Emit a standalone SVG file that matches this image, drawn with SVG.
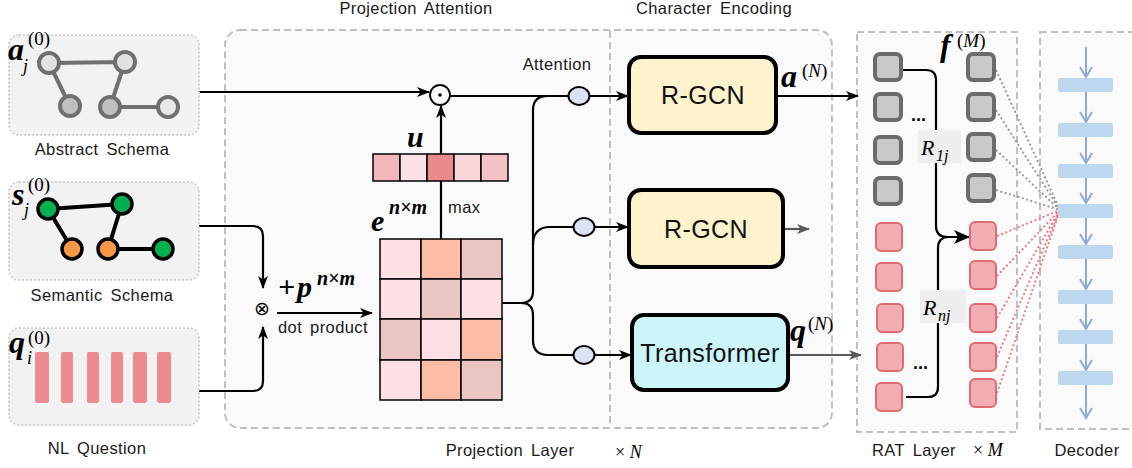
<svg xmlns="http://www.w3.org/2000/svg" width="1132" height="468" viewBox="0 0 1132 468">
<defs>
<style>
.lbl{font-family:"Liberation Sans",Arial,sans-serif;font-size:16.5px;fill:#1a1a1a;letter-spacing:0.4px;word-spacing:3px}
.math{font-family:"Liberation Serif","Times New Roman",serif;font-weight:bold;font-style:italic;fill:#000}
.mi{font-family:"Liberation Serif","Times New Roman",serif;font-style:italic;fill:#000}
.mr{font-family:"Liberation Serif","Times New Roman",serif;fill:#000}
.schema{fill:#f2f2f2;stroke:#d0d0d0;stroke-width:2;stroke-dasharray:2 2}
.dash{fill:#fafafa;stroke:#bfbfbf;stroke-width:2;stroke-dasharray:7 4}
.ae{stroke:#707070;stroke-width:4;fill:none}
.an{stroke:#707070;stroke-width:4}
.se{stroke:#000;stroke-width:4;fill:none}
.sn{stroke:#000;stroke-width:3.5}
.bar{fill:#ec8c90}
.cell{stroke:#000;stroke-width:1.5}
.conn{fill:none;stroke:#000;stroke-width:2.2}
.connG{fill:none;stroke:#595959;stroke-width:2.2}
.oval{fill:#dae3f3;stroke:#000;stroke-width:2}
.box{stroke:#000;stroke-width:4}
.boxt{font-family:"Liberation Sans",Arial,sans-serif;font-size:25px;fill:#111;text-anchor:middle;letter-spacing:0.4px}
.gsq{fill:#c8c8c8;stroke:#6b6b6b;stroke-width:4}
.psq{fill:#f2adb2;stroke:#df6b72;stroke-width:2}
.gdot{stroke:#9a9a9a;stroke-width:2;stroke-dasharray:2 2.5;fill:none}
.pdot{stroke:#ee7a84;stroke-width:2;stroke-dasharray:2 2.5;fill:none}
.dbar{fill:#bdd7ee}
.darr{stroke:#8eaadb;stroke-width:2;fill:none}
.rl{fill:#eeeeee}
</style>
<marker id="ah" markerUnits="userSpaceOnUse" markerWidth="13" markerHeight="10" refX="12" refY="5" orient="auto"><path d="M0,0 L13,5 L0,10 L3.5,5 z" fill="#000"/></marker>
<marker id="ahL" markerUnits="userSpaceOnUse" markerWidth="16" markerHeight="14" refX="15" refY="7" orient="auto"><path d="M0,0 L16,7 L0,14 L4,7 z" fill="#000"/></marker>
<marker id="ahG" markerUnits="userSpaceOnUse" markerWidth="13" markerHeight="10" refX="12" refY="5" orient="auto"><path d="M0,0 L13,5 L0,10 L3.5,5 z" fill="#595959"/></marker>
</defs>
<rect width="1132" height="468" fill="#ffffff"/>

<!-- containers -->
<g id="projection-layer">
<rect class="dash" x="225" y="30" width="607" height="398" rx="15"/>
<line x1="610" y1="31" x2="610" y2="427" stroke="#bfbfbf" stroke-width="2" stroke-dasharray="7 4"/>
<text class="lbl" x="416" y="14" text-anchor="middle">Projection Attention</text>
<text class="lbl" x="714" y="14" text-anchor="middle">Character Encoding</text>
<text class="lbl" x="510" y="456" text-anchor="middle">Projection Layer</text>
<text class="mr" x="615" y="458" font-size="18">× <tspan class="mi">N</tspan></text>
</g>
<g id="rat-layer-box">
<rect class="dash" x="857" y="32" width="160" height="400"/>
<text class="lbl" x="872" y="456">RAT Layer</text>
<text class="mr" x="973" y="456" font-size="18">× <tspan class="mi">M</tspan></text>
</g>
<g id="decoder-box">
<rect class="dash" x="1040" y="32" width="110" height="397"/>
<text class="lbl" x="1087" y="456" text-anchor="middle">Decoder</text>
</g>

<!-- connectors -->
<g id="connectors">
<path class="conn" d="M199,92 H429" marker-end="url(#ah)"/>
<path class="conn" d="M450,96 H628" marker-end="url(#ah)"/>
<path class="conn" d="M199,226 H253 Q263,226 263,236 V288" marker-end="url(#ah)"/>
<path class="conn" d="M199,391 H253 Q263,391 263,381 V327" marker-end="url(#ah)"/>
<path class="conn" d="M277,313 H372" marker-end="url(#ah)"/>
<path class="conn" d="M441,239 V106" marker-end="url(#ah)"/>
<path class="conn" d="M502,303 H521 Q533,303 533,291 V110 Q533,96 548,96"/>
<path class="conn" d="M533,245 Q533,227 550,227 H628" marker-end="url(#ah)"/>
<path class="conn" d="M521,303 Q533,303 533,315 V340 Q533,355 548,355 H631" marker-end="url(#ah)"/>
<path class="conn" d="M776,96 H858" marker-end="url(#ah)"/>
<path class="connG" d="M783,229 H809" marker-end="url(#ahG)"/>
<path class="connG" d="M788,355 H861" marker-end="url(#ahG)"/>
<path class="conn" stroke-width="2.6" d="M902,70 H926 Q936,70 936,80 V226 Q936,237 947,237 H969" marker-end="url(#ahL)"/>
<path class="conn" stroke-width="2.6" d="M906,397 H928 Q938,397 938,387 V248 Q938,237 949,237"/>
<g id="attn-dots">
<path class="gdot" d="M996,70 L1060,210 M996,110 L1060,210 M996,150 L1060,210 M996,190 L1060,210"/>
<path class="pdot" d="M997,236 L1060,210 M997,276 L1060,210 M997,318 L1060,210 M997,357 L1060,210 M997,393 L1060,210"/>
</g>
<path class="darr" d="M1086,47 V77 M1086,92 V122 M1086,137 V163 M1086,178 V203 M1086,218 V244 M1086,259 V289 M1086,304 V329 M1086,344 V370 M1086,385 V418"/>
<g id="decoder-arrowheads" fill="none" stroke="#8eaadb" stroke-width="2">
<path d="M1080,67 L1086,77 L1092,67 M1080,112 L1086,122 L1092,112 M1080,153 L1086,163 L1092,153 M1080,193 L1086,203 L1092,193 M1080,234 L1086,244 L1092,234 M1080,279 L1086,289 L1092,279 M1080,319 L1086,329 L1092,319 M1080,360 L1086,370 L1092,360 M1080,408 L1086,418 L1092,408"/>
</g>
</g>

<!-- left inputs -->
<g id="abstract-schema">
<rect class="schema" x="9" y="35" width="190" height="100" rx="10"/>
<path class="ae" d="M49,63 L125,62 M49,63 L70,106 M125,62 L110,107 M110,107 L168,107"/>
<circle class="an" cx="49" cy="63" r="10" fill="#e2e2e2"/>
<circle class="an" cx="125" cy="62" r="10" fill="#e2e2e2"/>
<circle class="an" cx="70" cy="106" r="10" fill="#c0c0c0"/>
<circle class="an" cx="110" cy="107" r="10" fill="#c0c0c0"/>
<circle class="an" cx="168" cy="107" r="10" fill="#e8e8e8"/>
<text class="math" x="8" y="60" font-size="32">a</text>
<text class="mi" x="23" y="72" font-size="18">j</text>
<text class="mr" x="28" y="45" font-size="19">(0)</text>
<text class="lbl" x="102" y="155" text-anchor="middle">Abstract Schema</text>
</g>
<g id="semantic-schema">
<rect class="schema" x="9" y="182" width="190" height="98" rx="10"/>
<path class="se" d="M48,209 L122,204 M48,209 L72,249 M122,204 L108,249 M108,249 L163,249"/>
<circle class="sn" cx="48" cy="209" r="10" fill="#00b050"/>
<circle class="sn" cx="122" cy="204" r="10" fill="#00b050"/>
<circle class="sn" cx="72" cy="249" r="10" fill="#f79646"/>
<circle class="sn" cx="108" cy="249" r="10" fill="#f79646"/>
<circle class="sn" cx="163" cy="249" r="10" fill="#00b050"/>
<text class="math" x="12" y="205" font-size="32">s</text>
<text class="mi" x="24" y="216" font-size="18">j</text>
<text class="mr" x="28" y="191" font-size="19">(0)</text>
<text class="lbl" x="102" y="301" text-anchor="middle">Semantic Schema</text>
</g>
<g id="nl-question">
<rect class="schema" x="9" y="328" width="190" height="97" rx="10"/>
<rect class="bar" x="35" y="352" width="14" height="51" rx="2"/>
<rect class="bar" x="61" y="352" width="12" height="51" rx="2"/>
<rect class="bar" x="87" y="352" width="12" height="51" rx="2"/>
<rect class="bar" x="111" y="352" width="12" height="51" rx="2"/>
<rect class="bar" x="133" y="352" width="14" height="51" rx="2"/>
<rect class="bar" x="157" y="352" width="14" height="51" rx="2"/>
<text class="math" x="9" y="353" font-size="32">q</text>
<text class="mi" x="27" y="364" font-size="18">i</text>
<text class="mr" x="28" y="344" font-size="19">(0)</text>
<text class="lbl" x="97" y="454" text-anchor="middle">NL Question</text>
</g>

<!-- projection attention -->
<g id="otimes">
<text x="262" y="315" font-family="DejaVu Sans, sans-serif" font-size="19" text-anchor="middle" fill="#000">⊗</text>
</g>
<g id="dot-product-label">
<text class="math" x="278" y="297" font-size="30">+</text>
<text class="math" x="297" y="297" font-size="30">p</text>
<text class="math" x="317" y="285" font-size="20">n×m</text>
<text class="lbl" x="278" y="333" font-size="15.5">dot product</text>
</g>
<g id="odot">
<circle cx="440" cy="95" r="10" fill="#fff" stroke="#000" stroke-width="1.8"/>
<circle cx="440" cy="95" r="1.8" fill="#000"/>
</g>
<g id="vector-u">
<rect class="cell" x="373" y="154" width="27" height="27" fill="#f2b6bb"/>
<rect class="cell" x="400" y="154" width="27" height="27" fill="#fbe1e3"/>
<rect class="cell" x="427" y="154" width="27" height="27" fill="#ea8a8f"/>
<rect class="cell" x="454" y="154" width="27" height="27" fill="#f8d7da"/>
<rect class="cell" x="481" y="154" width="27" height="27" fill="#f4c2c6"/>
<text class="math" x="407" y="147" font-size="30">u</text>
<text class="lbl" x="448" y="213" font-size="15.5">max</text>
</g>
<g id="matrix-e">
<rect class="cell" x="380" y="239" width="41" height="40" fill="#fde0e3"/>
<rect class="cell" x="421" y="239" width="40" height="40" fill="#fdbca6"/>
<rect class="cell" x="461" y="239" width="41" height="40" fill="#e9c5c3"/>
<rect class="cell" x="380" y="279" width="41" height="40" fill="#fde0e3"/>
<rect class="cell" x="421" y="279" width="40" height="40" fill="#e9c5c3"/>
<rect class="cell" x="461" y="279" width="41" height="40" fill="#fde0e3"/>
<rect class="cell" x="380" y="319" width="41" height="41" fill="#e9c5c3"/>
<rect class="cell" x="421" y="319" width="40" height="41" fill="#fde0e3"/>
<rect class="cell" x="461" y="319" width="41" height="41" fill="#fdbca6"/>
<rect class="cell" x="380" y="360" width="41" height="40" fill="#fde0e3"/>
<rect class="cell" x="421" y="360" width="40" height="40" fill="#fdbca6"/>
<rect class="cell" x="461" y="360" width="41" height="40" fill="#e9c5c3"/>
<text class="math" x="371" y="231" font-size="30">e</text>
<text class="math" x="389" y="214" font-size="20">n×m</text>
</g>
<g id="attention-gates">
<text class="lbl" x="557" y="70" text-anchor="middle" font-size="16">Attention</text>
<ellipse class="oval" cx="579" cy="96" rx="10.5" ry="9"/>
<ellipse class="oval" cx="584" cy="227" rx="10.5" ry="9"/>
<ellipse class="oval" cx="584" cy="355" rx="10.5" ry="9"/>
</g>

<!-- character encoding -->
<g id="rgcn-abstract">
<rect class="box" x="629" y="57" width="147" height="76" rx="12" fill="#fff2cc"/>
<text class="boxt" x="703" y="104">R-GCN</text>
<text class="math" x="781" y="87" font-size="32">a</text>
<text class="mr" x="802" y="77" font-size="19">(<tspan class="mi">N</tspan>)</text>
</g>
<g id="rgcn-semantic">
<rect class="box" x="629" y="190" width="154" height="77" rx="12" fill="#fff2cc"/>
<text class="boxt" x="706" y="238">R-GCN</text>
</g>
<g id="transformer">
<rect class="box" x="632" y="315" width="156" height="75" rx="12" fill="#ccf5fa"/>
<text class="boxt" x="710" y="362">Transformer</text>
<text class="math" x="790" y="341" font-size="32">q</text>
<text class="mr" x="808" y="330" font-size="19">(<tspan class="mi">N</tspan>)</text>
</g>

<!-- RAT layer nodes -->
<g id="rat-nodes">
<rect class="gsq" x="875" y="54" width="26" height="26" rx="5"/>
<rect class="gsq" x="875" y="94" width="26" height="26" rx="5"/>
<rect class="gsq" x="875" y="137" width="26" height="26" rx="5"/>
<rect class="gsq" x="875" y="178" width="26" height="26" rx="5"/>
<rect class="gsq" x="968" y="54" width="26" height="26" rx="5"/>
<rect class="gsq" x="968" y="94" width="26" height="26" rx="5"/>
<rect class="gsq" x="968" y="134" width="26" height="26" rx="5"/>
<rect class="gsq" x="968" y="175" width="26" height="26" rx="5"/>
<rect class="psq" x="876" y="223" width="26" height="28" rx="5"/>
<rect class="psq" x="876" y="263" width="26" height="28" rx="5"/>
<rect class="psq" x="877" y="304" width="26" height="28" rx="5"/>
<rect class="psq" x="877" y="343" width="26" height="28" rx="5"/>
<rect class="psq" x="876" y="383" width="26" height="28" rx="5"/>
<rect class="psq" x="970" y="222" width="26" height="28" rx="5"/>
<rect class="psq" x="970" y="261" width="26" height="28" rx="5"/>
<rect class="psq" x="970" y="304" width="26" height="28" rx="5"/>
<rect class="psq" x="970" y="343" width="26" height="28" rx="5"/>
<rect class="psq" x="970" y="379" width="26" height="28" rx="5"/>
<text x="911" y="121" font-family="Liberation Sans, sans-serif" font-weight="bold" font-size="18" fill="#000">...</text>
<text x="913" y="369" font-family="Liberation Sans, sans-serif" font-weight="bold" font-size="18" fill="#000">...</text>
<text class="math" x="940" y="56" font-size="32">f</text>
<text class="mr" x="957" y="47" font-size="19">(<tspan class="mi">M</tspan>)</text>
</g>
<g id="relation-r1j">
<rect class="rl" x="918" y="130" width="43" height="33"/>
<text class="mi" x="921" y="155" font-size="22">R</text>
<text class="mi" x="936" y="161" font-size="16">1j</text>
</g>
<g id="relation-rnj">
<rect class="rl" x="920" y="290" width="46" height="33"/>
<text class="mi" x="923" y="315" font-size="22">R</text>
<text class="mi" x="938" y="321" font-size="16">nj</text>
</g>

<!-- decoder -->
<g id="decoder-blocks">
<rect class="dbar" x="1058" y="78" width="55" height="14" rx="2"/>
<rect class="dbar" x="1058" y="123" width="55" height="14" rx="2"/>
<rect class="dbar" x="1058" y="164" width="55" height="14" rx="2"/>
<rect class="dbar" x="1058" y="204" width="55" height="14" rx="2"/>
<rect class="dbar" x="1058" y="245" width="55" height="14" rx="2"/>
<rect class="dbar" x="1058" y="290" width="55" height="14" rx="2"/>
<rect class="dbar" x="1058" y="330" width="55" height="14" rx="2"/>
<rect class="dbar" x="1058" y="371" width="55" height="14" rx="2"/>
</g>
</svg>
